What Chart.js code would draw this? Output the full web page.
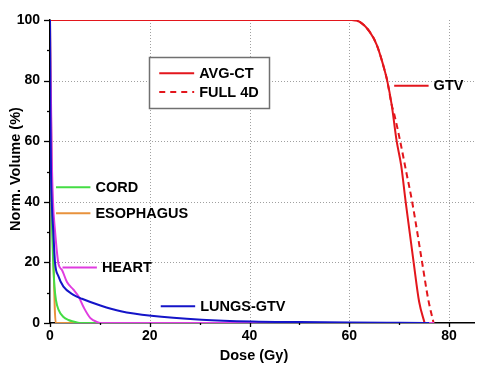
<!DOCTYPE html>
<html>
<head>
<meta charset="utf-8">
<script src="https://cdn.jsdelivr.net/npm/chart.js@4.4.1/dist/chart.umd.min.js"></script>
<style>
  html, body { margin: 0; padding: 0; background: #fff; }
  #wrap { width: 487px; height: 376px; }
</style>
</head>
<body>
<div id="wrap"><canvas id="dvh" width="487" height="376"></canvas></div>
<script>
// DVH curves: dose in Gy, volume in %
const gtvAvgDose = [0, 60.5, 62.1, 64.1, 65.5, 66.8, 67.6, 68.5, 69.5, 70.4, 71.3, 72.9, 74.0, 75.1];
const gtvAvgVol  = [100, 100, 99.4, 96.1, 91.8, 85.1, 80, 72, 60, 52, 40, 20, 7, 0];

const gtv4dDose = [0, 60.5, 62.1, 64.1, 65.5, 66.8, 67.6, 68.5, 69.0, 70.2, 71.4, 72.6, 74.6, 75.8, 76.9];
const gtv4dVol  = [100, 100, 99.4, 96.1, 91.8, 85.1, 80, 72, 69, 60, 50, 40, 20, 8, 0];

const lungsDose = [0, 0.08, 0.2, 0.4, 0.65, 1.0, 1.7, 2.7, 4.7, 6.4, 10.1, 14.2, 20.3, 30.4, 40.6, 50, 60, 70, 76];
const lungsVol  = [100, 70, 50, 38, 30.5, 20, 15.4, 12, 9.3, 8.0, 5.8, 3.9, 2.4, 1.1, 0.5, 0.3, 0.15, 0.05, 0];

const heartDose = [0, 0.15, 0.35, 0.6, 1.0, 1.7, 2.4, 3.4, 4.7, 5.7, 6.8, 8.1, 9.5, 10.5, 77];
const heartVol  = [100, 80, 55, 40, 30.5, 19.5, 17.5, 13.5, 11, 8.8, 5, 1.6, 0.3, 0, 0];

const cordDose = [0, 0.1, 0.3, 0.6, 0.9, 1.2, 1.7, 2.7, 3.7, 4.7, 6.0, 77];
const cordVol  = [100, 70, 40, 22, 12, 7.5, 4.4, 2, 1, 0.5, 0, 0];

const esoDose = [0, 0.15, 0.4, 0.7, 0.95, 1.15, 77];
const esoVol  = [100, 75, 45, 20, 5, 0, 0];

const xTicks = [0, 20, 40, 60, 80];
const yTicks = [0, 20, 40, 60, 80, 100];

const RED = '#e3161c';
const BLUE = '#1414c8';
const MAGENTA = '#e03ce0';
const GREEN = '#44dd44';
const ORANGE = '#e8923c';
const FONT = '"Liberation Sans", Arial, sans-serif';

function pts(dose, vol) {
    return dose.map((d, i) => ({ x: d, y: vol[i] }));
}

function serie(label, dose, vol, color, dash) {
    return {
        label: label,
        data: pts(dose, vol),
        borderColor: color,
        borderWidth: 2,
        borderDash: dash || [],
        pointRadius: 0,
        fill: false,
        cubicInterpolationMode: 'monotone'
    };
}

// curve names written next to the curves, positions in Gy / %
const curveLabels = [
    { text: 'CORD',      color: GREEN,   x1: 1.2,  x2: 8.1,  y: 44.8 },
    { text: 'ESOPHAGUS', color: ORANGE,  x1: 1.2,  x2: 8.1,  y: 36.2 },
    { text: 'HEART',     color: MAGENTA, x1: 2.5,  x2: 9.4,  y: 18.3 },
    { text: 'LUNGS-GTV', color: BLUE,    x1: 22.2, x2: 29.1, y: 5.5 },
    { text: 'GTV',       color: RED,     x1: 69.0, x2: 75.9, y: 78.3 }
];

const decor = {
    id: 'decor',
    beforeDatasetsDraw(chart) {
        const { ctx, chartArea: a, scales: { x, y } } = chart;
        ctx.save();
        ctx.strokeStyle = '#a0a0a0';
        ctx.lineWidth = 1;
        ctx.setLineDash([1, 2]);
        xTicks.forEach(v => {
            if (v === 0) return;
            const px = Math.round(x.getPixelForValue(v)) + 0.5;
            ctx.beginPath(); ctx.moveTo(px, a.top); ctx.lineTo(px, a.bottom); ctx.stroke();
        });
        yTicks.forEach(v => {
            if (v === 0 || v === 100) return;
            const py = Math.round(y.getPixelForValue(v)) + 0.5;
            ctx.beginPath(); ctx.moveTo(a.left, py); ctx.lineTo(a.right, py); ctx.stroke();
        });
        ctx.restore();
    },
    afterDraw(chart) {
        const { ctx, chartArea: a, scales: { x, y } } = chart;
        ctx.save();

        // tick marks, major and minor
        ctx.strokeStyle = '#000';
        ctx.lineWidth = 1.3;
        for (let v = 0; v <= 100; v += 10) {
            const py = Math.round(y.getPixelForValue(v)) + 0.5;
            const len = v % 20 === 0 ? 6 : 3;
            ctx.beginPath(); ctx.moveTo(a.left, py); ctx.lineTo(a.left - len, py); ctx.stroke();
        }
        for (let v = 0; v <= 80; v += 10) {
            const px = Math.round(x.getPixelForValue(v)) + 0.5;
            const len = v % 20 === 0 ? 4 : 2;
            ctx.beginPath(); ctx.moveTo(px, a.bottom); ctx.lineTo(px, a.bottom + len); ctx.stroke();
        }

        ctx.font = 'bold 14.5px ' + FONT;
        ctx.fillStyle = '#000';
        ctx.textBaseline = 'middle';

        // curve labels
        curveLabels.forEach(l => {
            const py = y.getPixelForValue(l.y);
            ctx.strokeStyle = l.color;
            ctx.lineWidth = 2;
            ctx.beginPath();
            ctx.moveTo(x.getPixelForValue(l.x1), py);
            ctx.lineTo(x.getPixelForValue(l.x2), py);
            ctx.stroke();
            ctx.textAlign = 'left';
            ctx.fillText(l.text, x.getPixelForValue(l.x2) + 5, py + 0.5);
        });

        // legend box
        const bx1 = Math.round(x.getPixelForValue(19.9)) + 0.5;
        const bx2 = Math.round(x.getPixelForValue(44.0)) + 0.5;
        const by1 = Math.round(y.getPixelForValue(87.8)) + 0.5;
        const by2 = Math.round(y.getPixelForValue(71.0)) + 0.5;
        ctx.fillStyle = '#fff';
        ctx.fillRect(bx1, by1, bx2 - bx1, by2 - by1);
        ctx.strokeStyle = '#707070';
        ctx.lineWidth = 1.5;
        ctx.strokeRect(bx1, by1, bx2 - bx1, by2 - by1);

        const legend = [
            { text: 'AVG-CT', y: 82.4, dash: [] },
            { text: 'FULL 4D', y: 76.2, dash: [6, 5] }
        ];
        legend.forEach(l => {
            const py = y.getPixelForValue(l.y);
            ctx.strokeStyle = RED;
            ctx.lineWidth = 2;
            ctx.setLineDash(l.dash);
            ctx.beginPath();
            ctx.moveTo(x.getPixelForValue(21.9), py);
            ctx.lineTo(x.getPixelForValue(28.9), py);
            ctx.stroke();
            ctx.setLineDash([]);
            ctx.fillStyle = '#000';
            ctx.fillText(l.text, x.getPixelForValue(28.9) + 5, py + 0.5);
        });

        // axis titles
        ctx.textAlign = 'center';
        ctx.fillText('Dose (Gy)', (a.left + a.right) / 2 - 8, a.bottom + 32.5);
        ctx.translate(a.left - 34, (a.top + a.bottom) / 2 - 2.5);
        ctx.rotate(-Math.PI / 2);
        ctx.fillText('Norm. Volume (%)', 0, 0);

        ctx.restore();
    }
};

const tickFont = { family: FONT, size: 14, weight: 'bold' };

// GTV plateau sits on the top edge: clip it there like the original
const gtvAvg = serie('GTV AVG-CT', gtvAvgDose, gtvAvgVol, RED);
const gtv4d = serie('GTV FULL 4D', gtv4dDose, gtv4dVol, RED, [6, 4]);
gtvAvg.clip = { left: 2, top: 0, right: 2, bottom: 2 };
gtv4d.clip = { left: 2, top: 0, right: 2, bottom: 2 };

new Chart(document.getElementById('dvh'), {
    type: 'line',
    data: {
        datasets: [
            serie('LUNGS-GTV', lungsDose, lungsVol, BLUE),
            serie('HEART', heartDose, heartVol, MAGENTA),
            serie('CORD', cordDose, cordVol, GREEN),
            serie('ESOPHAGUS', esoDose, esoVol, ORANGE),
            gtvAvg,
            gtv4d
        ]
    },
    options: {
        responsive: false,
        animation: false,
        layout: { padding: { top: 20, right: 13, left: 0, bottom: 0 } },
        plugins: { legend: { display: false }, tooltip: { enabled: false } },
        scales: {
            x: {
                type: 'linear',
                min: 0,
                max: 85,
                afterFit: s => { s.height = 53; },
                grid: { display: false, drawTicks: false },
                border: { display: true, color: '#000', width: 1.5 },
                ticks: {
                    stepSize: 20,
                    includeBounds: false,
                    padding: 5,
                    color: '#000',
                    font: tickFont,
                    callback: v => (xTicks.includes(v) ? v : '')
                }
            },
            y: {
                min: 0,
                max: 100,
                afterFit: s => { s.width = 50; },
                grid: { display: false, drawTicks: false },
                border: { display: true, color: '#000', width: 1.5 },
                ticks: {
                    stepSize: 20,
                    padding: 10,
                    color: '#000',
                    font: tickFont,
                    callback: v => (yTicks.includes(v) ? v : '')
                }
            }
        }
    },
    plugins: [decor]
});
</script>
</body>
</html>
